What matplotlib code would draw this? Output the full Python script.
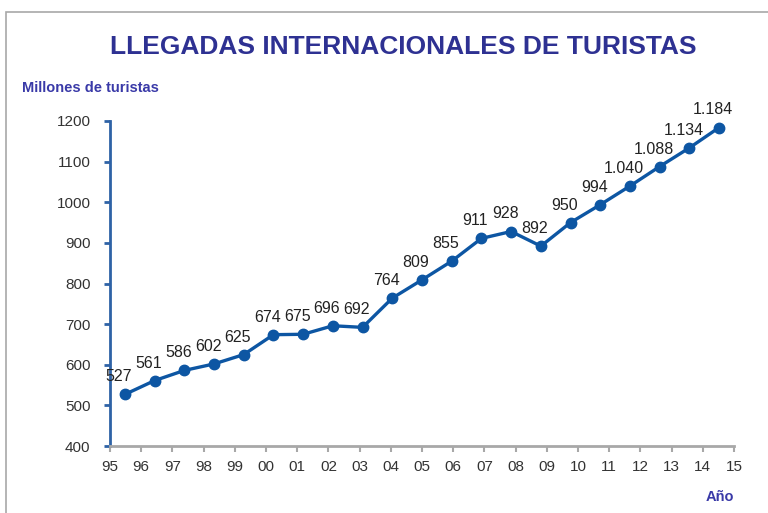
import matplotlib
matplotlib.use("Agg")
import matplotlib.pyplot as plt
from matplotlib.patches import Rectangle

years = ["95", "96", "97", "98", "99", "00", "01", "02", "03", "04", "05",
         "06", "07", "08", "09", "10", "11", "12", "13", "14", "15"]
values = [527, 561, 586, 602, 625, 674, 675, 696, 692, 764, 809,
          855, 911, 928, 892, 950, 994, 1040, 1088, 1134, 1184]
labels = ["527", "561", "586", "602", "625", "674", "675", "696", "692", "764", "809",
          "855", "911", "928", "892", "950", "994", "1.040", "1.088", "1.134", "1.184"]
yticks = [400, 500, 600, 700, 800, 900, 1000, 1100, 1200]

plain = ["Liberation Sans", "DejaVu Sans"]

W, H = 768, 513
fig = plt.figure(figsize=(W / 100, H / 100), dpi=100)

# frame
fig.patches.append(Rectangle((6 / W, -0.1), 1.2, 1 - 12 / H + 0.1, transform=fig.transFigure,
                             fill=False, edgecolor="#a8a8a8", linewidth=1.2))

ax = fig.add_axes([110 / W, 1 - 446 / H, (734 - 110) / W, (446 - 121) / H])
n = len(values)
xs = list(range(n))
line_col = "#0d56a3"
ax.plot(xs, values, color=line_col, linewidth=2.4, marker="o", markersize=7.5,
        markerfacecolor=line_col, markeredgecolor=line_col, zorder=3, clip_on=False)
for x, v, lab in zip(xs, values, labels):
    ax.annotate(lab, (x, v), xytext=(-6, 10), textcoords="offset pixels",
                ha="center", va="bottom", fontsize=11.5, family=plain, color="#222222")

ax.set_xlim(-0.5, n - 0.5)
ax.set_ylim(400, 1200)
step = n / (len(years) - 1)
ax.set_xticks([-0.5 + i * step for i in range(len(years))])
ax.set_xticklabels(years, family=plain, fontsize=11, color="#333333")
ax.set_yticks(yticks)
ax.set_yticklabels([str(t) for t in yticks], family=plain, fontsize=11, color="#333333")
for s in ["top", "right"]:
    ax.spines[s].set_visible(False)
ax.spines["left"].set_color("#2e62a6")
ax.spines["left"].set_linewidth(2)
ax.spines["bottom"].set_color("#a8a8a8")
ax.spines["bottom"].set_linewidth(2)
ax.tick_params(axis="y", length=4, width=2, color="#2e62a6", pad=10)
ax.tick_params(axis="x", length=4, width=1.5, color="#a8a8a8", pad=6)

fig.text(403 / W, 1 - 47 / H, "LLEGADAS INTERNACIONALES DE TURISTAS", ha="center", va="center",
         fontsize=19, fontweight="bold", family=plain, color="#2e3192")
fig.text(22 / W, 1 - 88 / H, "Millones de turistas", ha="left", va="center",
         fontsize=10.5, fontweight="bold", family=plain, color="#3a3aa8")
fig.text(720 / W, 1 - 497 / H, "Año", ha="center", va="center",
         fontsize=10.5, fontweight="bold", family=plain, color="#3a3aa8")

fig.savefig("out.png", dpi=100)
